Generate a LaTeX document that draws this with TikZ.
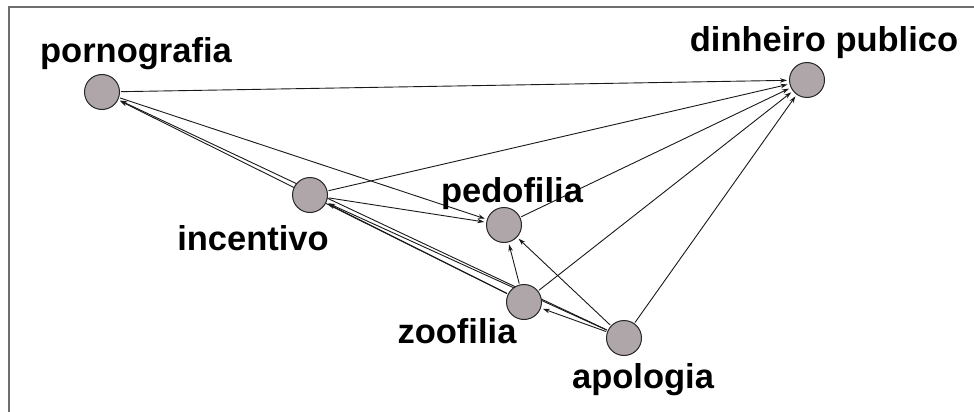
\documentclass[tikz,border=0pt]{standalone}
\usepackage{fontspec}
\setmainfont{Liberation Sans}
\usetikzlibrary{arrows.meta,backgrounds}
\definecolor{nodefill}{RGB}{174,166,169}
\definecolor{framegray}{RGB}{110,110,110}
\tikzset{
  vert/.style={circle,draw=black!85,line width=1pt,fill=nodefill,minimum size=35pt,inner sep=0pt},
  lab/.style={anchor=base,font=\fontsize{34.5}{40}\selectfont\bfseries,inner sep=0pt},
  conn/.style={draw=black!90,line width=0.9pt,-{Stealth[length=7pt,width=4.5pt]},shorten >=2pt,shorten <=1pt}
}
\begin{document}
\begin{tikzpicture}[x=1pt,y=-1pt]
\useasboundingbox (0,0) rectangle (974,412);
\draw[framegray,line width=1.5pt] (9,412) -- (9,7) -- (974,7);
% vertices
\node[vert] (por) at (102,92) {};
\node[vert] (din) at (807,80) {};
\node[vert] (inc) at (310,195) {};
\node[vert] (ped) at (504,225) {};
\node[vert] (zoo) at (524,302) {};
\node[vert] (apo) at (624,338) {};
% labels
\node[lab] (lpor) at (136,63) {pornografia};
\node[lab] (ldin) at (824,52) {dinheiro publico};
\node[lab] (linc) at (253,250) {incentivo};
\node[lab] (lped) at (512,202) {pedofilia};
\node[lab] (lzoo) at (457,343) {zoofilia};
\node[lab] (lapo) at (643,388) {apologia};
% connectors
\begin{pgfonlayer}{background}
\draw[conn] (por) -- (din);
\draw[conn] (inc) -- (din);
\draw[conn] (ped) -- (din);
\draw[conn] (zoo) -- (din);
\draw[conn] (apo) -- (din);
\draw[conn] (por) -- (ped);
\draw[conn] (inc) -- (ped);
\draw[conn] (zoo) -- (ped);
\draw[conn] (apo) -- (ped);
\draw[conn] (zoo) -- (por);
\draw[conn] (apo) -- (por);
\draw[conn] (zoo) -- (inc);
\draw[conn] (apo) -- (inc);
\draw[conn] (apo) -- (zoo);
\end{pgfonlayer}
\end{tikzpicture}
\end{document}
